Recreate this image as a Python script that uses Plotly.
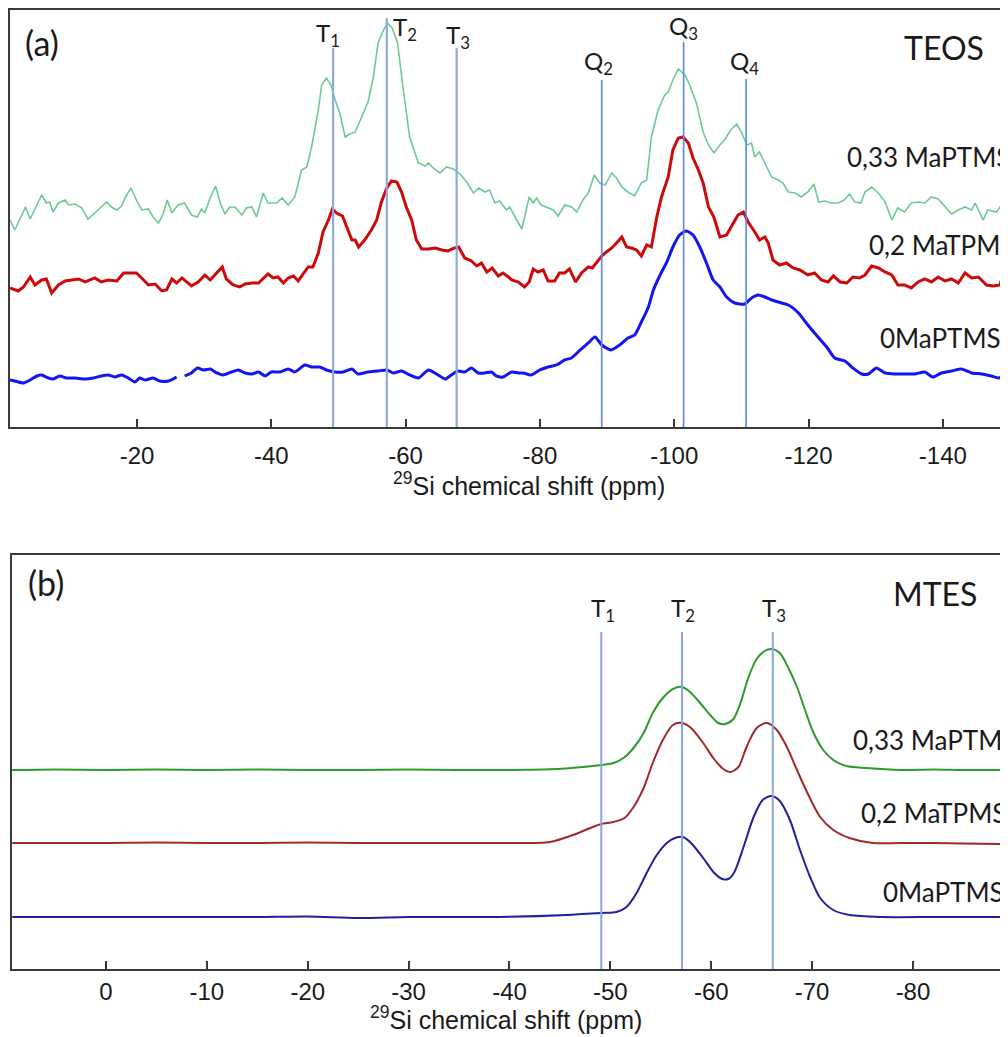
import plotly.graph_objects as go

# ---------------- Panel (a) TEOS : 29Si chemical shift (ppm) vs intensity (a.u.)
teos_033_ppm = [-1.1,-1.8,-3.4,-4.1,-5.8,-6.5,-7.0,-7.5,-8.3,-9.3,-9.8,-10.8,-11.8,-12.7,-13.7,-14.7,-15.5,-16.2,-17.0,-17.7,
                -18.3,-19.1,-19.9,-20.7,-21.7,-22.4,-23.2,-23.9,-24.5,-25.2,-26.1,-27.1,-28.1,-29.0,-29.6,-30.1,-30.9,-31.7,-32.4,-33.1,
                -33.8,-34.6,-35.6,-36.3,-37.1,-37.8,-38.8,-39.5,-40.8,-41.6,-42.5,-43.5,-44.5,-45.3,-46.0,-47.0,-47.5,-48.2,-48.9,-49.5,
                -50.2,-51.0,-51.7,-52.5,-53.4,-54.4,-55.2,-55.9,-56.7,-57.3,-58.0,-58.8,-59.6,-60.6,-61.9,-62.9,-63.4,-64.1,-65.1,-66.1,
                -67.1,-68.1,-69.1,-70.1,-70.9,-71.8,-72.5,-73.3,-74.0,-75.0,-75.5,-76.3,-77.3,-77.9,-78.4,-79.0,-79.5,-80.2,-81.2,-82.0,
                -82.7,-83.7,-84.7,-85.5,-86.4,-87.2,-88.1,-88.9,-89.7,-90.7,-91.4,-92.2,-93.1,-94.1,-95.1,-95.9,-96.6,-97.6,-98.5,-99.1,
                -99.8,-100.6,-101.6,-102.3,-103.3,-104.3,-105.1,-105.9,-106.8,-107.5,-108.4,-109.3,-110.0,-110.8,-111.5,-112.0,-112.7,-113.5,-114.5,-115.5,
                -116.2,-117.0,-118.0,-118.9,-119.9,-120.8,-121.5,-122.4,-123.4,-124.4,-125.3,-126.1,-126.9,-127.8,-128.4,-129.4,-130.4,-131.4,-132.4,-133.3,
                -134.3,-135.3,-136.3,-137.3,-138.3,-139.3,-140.3,-141.3,-142.3,-143.3,-144.3,-144.8,-146.0,-146.7,-148.0,-149.0,-149.5]
teos_033_int = [207,197,220,208,232,224,225,215,224,227,222,223,219,208,214,220,225,220,217,221,
                230,239,227,217,218,210,204,213,227,214,222,224,212,210,218,214,229,241,224,213,
                220,220,212,219,220,210,234,224,224,229,222,230,257,260,280,317,342,349,342,327,
                314,290,293,295,309,325,350,384,397,404,399,384,340,290,264,261,264,259,254,260,
                258,253,245,234,239,235,237,224,226,217,220,210,198,215,230,224,229,222,219,217,
                211,222,220,215,227,234,252,244,242,254,249,240,235,231,244,247,290,317,331,335,
                347,358,352,342,324,295,282,274,282,287,297,303,295,282,284,270,275,264,250,247,
                244,235,234,230,235,243,225,226,224,224,227,233,225,224,235,240,234,225,207,219,
                215,224,225,224,230,228,220,213,217,220,217,224,207,217,215,225,224]

teos_02_ppm = [-1.1,-2.3,-3.1,-4.1,-4.8,-5.8,-6.5,-7.3,-8.3,-9.3,-10.3,-11.3,-12.3,-13.0,-13.7,-14.7,-15.7,-17.0,-18.0,-19.0,
               -19.9,-20.7,-21.7,-22.7,-23.7,-24.4,-25.2,-25.9,-26.7,-27.4,-28.1,-29.1,-30.1,-30.9,-31.7,-32.7,-33.3,-34.3,-35.3,-36.1,
               -37.1,-38.1,-39.5,-40.3,-41.0,-41.8,-42.5,-43.3,-44.0,-44.8,-45.5,-46.2,-47.0,-47.7,-48.5,-49.1,-49.7,-50.6,-51.2,-52.0,
               -52.5,-53.0,-53.9,-54.9,-55.7,-56.4,-57.2,-57.9,-58.7,-59.4,-60.1,-60.9,-61.6,-62.4,-63.4,-64.4,-65.4,-66.3,-67.3,-67.9,
               -68.8,-69.8,-70.6,-71.3,-72.1,-72.9,-73.8,-74.5,-75.3,-75.8,-76.8,-77.7,-78.4,-79.0,-79.7,-80.5,-81.2,-82.2,-82.9,-83.7,
               -84.4,-85.3,-86.2,-87.2,-87.8,-88.4,-89.2,-89.9,-90.7,-91.4,-92.2,-92.9,-93.6,-94.4,-95.1,-95.9,-96.6,-97.4,-98.1,-99.1,
               -99.8,-100.6,-101.3,-102.1,-102.8,-103.6,-104.3,-105.1,-105.9,-106.8,-107.8,-108.8,-109.5,-110.3,-111.0,-112.0,-112.7,-113.5,-114.0,-114.7,
               -115.7,-116.7,-117.7,-118.7,-119.9,-120.9,-121.9,-122.9,-123.7,-124.7,-125.7,-126.6,-127.6,-128.4,-129.4,-130.4,-131.4,-132.4,-133.3,-134.3,
               -135.3,-136.3,-137.3,-138.3,-139.3,-140.3,-141.3,-142.3,-143.3,-144.3,-145.3,-146.5,-147.5,-148.5,-149.2]
teos_02_int = [139,136,140,150,142,147,148,134,142,146,147,148,145,147,149,145,147,146,154,154,
               154,149,142,143,136,137,148,144,149,145,141,145,152,147,153,160,148,142,140,143,
               144,144,153,149,150,144,149,151,146,154,160,160,174,195,207,218,214,211,200,187,
               187,180,187,197,207,225,239,246,245,235,220,207,187,178,178,179,177,176,179,180,
               169,166,161,164,155,159,151,154,150,147,145,140,145,158,155,157,146,146,154,154,
               158,145,154,160,159,164,171,175,179,184,190,180,179,177,171,182,180,210,230,250,
               277,289,290,284,269,257,244,220,210,190,192,204,212,215,205,195,187,190,184,167,
               162,164,159,157,152,154,147,145,151,145,144,150,149,152,161,159,155,152,142,142,
               139,145,148,145,150,146,148,144,154,149,150,142,141,142,157]

teos_0_ppm = [-1.1,-1.8,-3.1,-4.1,-5.1,-5.8,-6.8,-7.5,-8.5,-9.5,-10.8,-12.3,-13.5,-14.7,-15.7,-16.7,-17.7,-18.7,-19.7,-20.4,
              -21.2,-22.4,-23.4,-24.7,-25.9,-26.4,-27.1,-28.1,-29.0,-29.9,-30.9,-31.9,-32.8,-34.1,-35.1,-36.1,-37.1,-38.1,-39.1,-40.0,
              -41.3,-42.5,-43.5,-45.0,-46.0,-47.2,-48.2,-49.5,-50.7,-52.0,-52.9,-54.4,-55.9,-57.2,-58.2,-59.4,-60.6,-61.9,-63.4,-64.6,
              -65.9,-66.8,-67.8,-68.8,-69.8,-70.8,-71.8,-72.8,-73.5,-74.5,-75.8,-76.8,-77.5,-78.7,-80.0,-81.2,-82.5,-83.7,-84.7,-86.0,
              -87.2,-88.2,-89.2,-90.6,-91.9,-93.1,-94.1,-95.1,-96.1,-96.9,-97.9,-98.9,-99.8,-100.8,-101.8,-102.8,-103.8,-104.8,-105.8,-106.8,
              -107.8,-109.0,-110.5,-111.5,-112.5,-113.5,-114.5,-116.0,-117.0,-118.5,-119.9,-121.4,-122.7,-123.9,-125.4,-126.6,-127.9,-128.9,-130.1,-131.4,
              -132.8,-134.3,-135.8,-137.3,-138.5,-139.8,-141.3,-142.8,-144.3,-145.8,-147.2,-148.3,-149.5]
teos_0_int = [47,46,44,47,51,52,49,48,51,49,49,48,49,51,52,50,52,49,45,49,
              47,49,46,46,50,None,51,54,59,57,58,54,52,55,57,54,53,55,51,55,
              55,58,55,62,60,60,57,55,55,58,53,55,56,57,54,56,52,49,57,53,
              48,52,56,55,59,54,54,55,51,50,55,54,54,52,57,60,62,67,69,77,
              84,90,82,77,82,89,92,105,119,137,152,165,180,192,196,192,180,164,147,140,
              130,124,123,129,132,130,127,124,122,114,102,90,80,69,66,59,53,53,59,54,
              53,53,53,55,50,54,56,58,54,53,51,49,52]

# ---------------- Panel (b) MTES
mtes_033_ppm = [9.3,5,0,-5,-10,-15,-20,-25,-30,-35,-39,-44,-47.3,-49.1,-50.3,-51.3,-52.3,-53.3,-54.2,-55.2,
                -56.2,-57.1,-57.9,-58.9,-59.9,-60.7,-61.4,-62.2,-62.9,-63.7,-64.5,-65.3,-66.0,-66.8,-67.6,-68.5,-69.3,-70.1,-71.1,-72.1,
                -73.4,-75.4,-78.7,-82,-85,-89.4]
mtes_033_int = [199,199.5,199,199.5,199,199.5,199,199,199.5,199,199,199.7,202,204,206,211,221,236,256,271,
                280,282,277,266,254,246,245,250,266,292,310,318,320,316,302,282,259,237,219,209,
                203,201,199,199.5,199,199]

mtes_02_ppm = [9.3,5,0,-5,-10,-15,-20,-25,-30,-35,-39,-44,-46.3,-48.0,-49.1,-50.3,-51.4,-52.3,-53.3,-54.2,
               -55.2,-56.2,-57.1,-58.0,-59.2,-60.2,-61.2,-61.9,-62.7,-63.5,-64.5,-65.5,-66.5,-67.5,-68.5,-69.4,-70.8,-72.1,-73.7,-76.0,
               -78.7,-82,-85,-89.4]
mtes_02_int = [126,126,126,126.5,126,126,126.5,126,126,126,126,127,134,141,145,147,151,162,181,206,
               229,244,246,241,226,211,200,197,202,222,241,246,239,222,199,179,152,139,131,126,
               126,126,125.5,125]

mtes_0_ppm = [9.3,5,0,-5,-10,-15,-20,-25,-30,-35,-39,-45.7,-49.1,-50.6,-51.6,-52.6,-53.6,-54.6,-55.6,-56.4,
              -57.2,-58.0,-59.2,-60.3,-61.1,-61.7,-62.3,-63.2,-64.2,-65.1,-66.0,-66.8,-67.8,-68.8,-69.8,-70.8,-72.1,-73.7,-77.0,-82,
              -85,-89.4]
mtes_0_int = [52,52,52,52,52,52,52.5,51,52,52,52,54,56,57,62,76,96,114,126,131,
              132,126,111,96,90,90,97,122,152,169,173,168,149,119,92,71,59,54,52,52,
              52,52]

# reference-line positions (ppm) and label texts
teos_ref_ppm = [-49.2, -57.2, -67.6, -89.2, -101.4, -110.7]
teos_ref_top = [379, 409, 379, 347, 385, 348]
teos_ref_lbl = ["T<sub>1</sub>", "T<sub>2</sub>", "T<sub>3</sub>", "Q<sub>2</sub>", "Q<sub>3</sub>", "Q<sub>4</sub>"]
teos_lbl_ppm = [-48.5, -59.9, -67.8, -88.7, -101.4, -110.4]
teos_lbl_int = [393, 399, 391, 365, 400, 365]

mtes_ref_ppm = [-49.1, -57.1, -66.1]
mtes_ref_top = [337, 337, 337]
mtes_ref_lbl = ["T<sub>1</sub>", "T<sub>2</sub>", "T<sub>3</sub>"]
mtes_lbl_ppm = [-49.3, -57.2, -66.2]
mtes_lbl_int = [359, 359, 359]

series_labels = ["0,33 MaPTMS", "0,2 MaTPMS", "0MaPTMS"]
teos_lab_ppm = [-125.5, -128.7, -130.4]
teos_lab_int = [270, 182, 89]
mtes_lab_ppm = [-73.9, -74.6, -76.8]
mtes_lab_int = [229, 156, 77]

tick_a = [-20, -40, -60, -80, -100, -120, -140]
tick_a_txt = ["-20", "-40", "-60", "-80", "-100", "-120", "-140"]
tick_b = [0, -10, -20, -30, -40, -50, -60, -70, -80]
tick_b_txt = ["0", "-10", "-20", "-30", "-40", "-50", "-60", "-70", "-80"]

fig = go.Figure()
fig.add_trace(go.Scatter(x=teos_033_ppm, y=teos_033_int, mode="lines", line=dict(color="#6ccb93", width=1.6),
                         xaxis="x", yaxis="y", showlegend=False))
fig.add_trace(go.Scatter(x=teos_02_ppm, y=teos_02_int, mode="lines", line=dict(color="#cc0a0a", width=3),
                         xaxis="x", yaxis="y", showlegend=False))
fig.add_trace(go.Scatter(x=teos_0_ppm, y=teos_0_int, mode="lines",
                         line=dict(color="#1414f0", width=3, shape="spline", smoothing=0.6),
                         xaxis="x", yaxis="y", showlegend=False, connectgaps=False))

fig.add_trace(go.Scatter(x=mtes_033_ppm, y=mtes_033_int, mode="lines", line=dict(color="#2e9a2e", width=2, shape="spline", smoothing=0.8),
                         xaxis="x2", yaxis="y2", showlegend=False))
fig.add_trace(go.Scatter(x=mtes_02_ppm, y=mtes_02_int, mode="lines", line=dict(color="#a02a2a", width=2, shape="spline", smoothing=0.8),
                         xaxis="x2", yaxis="y2", showlegend=False))
fig.add_trace(go.Scatter(x=mtes_0_ppm, y=mtes_0_int, mode="lines", line=dict(color="#20209a", width=2, shape="spline", smoothing=0.8),
                         xaxis="x2", yaxis="y2", showlegend=False))

shapes = []
for k, (p, t) in enumerate(zip(teos_ref_ppm, teos_ref_top)):
    is_q = k >= 3
    shapes.append(dict(type="line", xref="x", yref="y", x0=p, x1=p, y0=0, y1=t,
                       line=dict(color="#5a8ae4" if is_q else "#8eaadf", width=1.6 if is_q else 2.2), layer="above"))
for p, t in zip(mtes_ref_ppm, mtes_ref_top):
    shapes.append(dict(type="line", xref="x2", yref="y2", x0=p, x1=p, y0=0, y1=t,
                       line=dict(color="#8aa8e0", width=2), layer="above"))

lbl_font = dict(family="Lato", size=24, color="#1a1a1a")
ann = []
for t, p, i in zip(teos_ref_lbl, teos_lbl_ppm, teos_lbl_int):
    ann.append(dict(text=t, x=p, y=i, xref="x", yref="y", showarrow=False, font=lbl_font, xanchor="center", yanchor="middle"))
for t, p, i in zip(mtes_ref_lbl, mtes_lbl_ppm, mtes_lbl_int):
    ann.append(dict(text=t, x=p, y=i, xref="x2", yref="y2", showarrow=False, font=lbl_font, xanchor="center", yanchor="middle"))
ser_font = dict(family="Lato", size=26, color="#1a1a1a")
for t, p, i in zip(series_labels, teos_lab_ppm, teos_lab_int):
    ann.append(dict(text=t, x=p, y=i, xref="x", yref="y", showarrow=False, font=ser_font, xanchor="left", yanchor="middle"))
for t, p, i in zip(series_labels, mtes_lab_ppm, mtes_lab_int):
    ann.append(dict(text=t, x=p, y=i, xref="x2", yref="y2", showarrow=False, font=ser_font, xanchor="left", yanchor="middle"))
big_font = dict(family="Lato", size=32, color="#1a1a1a")
ann.append(dict(text="TEOS", x=-140.1, y=380, xref="x", yref="y", showarrow=False, font=big_font))
ann.append(dict(text="MTES", x=-82.2, y=375, xref="x2", yref="y2", showarrow=False, font=big_font))
pan_font = dict(family="Lato", size=34, color="#1a1a1a")
ann.append(dict(text="(a)", x=-5.8, y=385, xref="x", yref="y", showarrow=False, font=pan_font))
ann.append(dict(text="(b)", x=5.9, y=386, xref="x2", yref="y2", showarrow=False, font=pan_font))
title_txt = "<sup>29</sup>Si chemical shift (ppm)"
tfont = dict(family="Liberation Sans, Arial", size=25, color="#1a1a1a")
ann.append(dict(text=title_txt, x=(529 - 10) / 998, y=(969 - 484) / 959, xref="paper", yref="paper",
                showarrow=False, font=tfont, xanchor="center", yanchor="middle"))
ann.append(dict(text=title_txt, x=(506 - 10) / 998, y=(969 - 1018) / 959, xref="paper", yref="paper",
                showarrow=False, font=tfont, xanchor="center", yanchor="middle"))

axis_common = dict(showgrid=False, zeroline=False, showline=True, linecolor="#3a3a3a", linewidth=2,
                   ticks="inside", ticklen=8, tickwidth=2, tickcolor="#3a3a3a",
                   tickfont=dict(family="Liberation Sans, Arial", size=24, color="#1a1a1a"), mirror=True)
yaxis_common = dict(showgrid=False, zeroline=False, showline=True, linecolor="#3a3a3a", linewidth=2,
                    showticklabels=False, ticks="", mirror=False)

# the page body adds an 8px offset, so the figure is 8px smaller and margins reduced by 8
fig.update_layout(
    width=1000, height=1029, autosize=False,
    margin=dict(l=2, r=0, t=2, b=68),
    paper_bgcolor="white", plot_bgcolor="white",
    xaxis=dict(domain=[0, 1], anchor="y", range=[-1.09, -149.7], tickvals=tick_a, ticktext=tick_a_txt,
               ticklabelstandoff=6, **axis_common),
    yaxis=dict(domain=[0.5652, 1], anchor="x", range=[0, 417], **yaxis_common),
    xaxis2=dict(domain=[0.002, 1], anchor="y2", range=[9.32, -89.42], tickvals=tick_b, ticktext=tick_b_txt,
                ticklabelstandoff=0, **axis_common),
    yaxis2=dict(domain=[0, 0.4317], anchor="x2", range=[0, 414], **yaxis_common),
    shapes=shapes, annotations=ann,
)

fig.write_html("out.html")
